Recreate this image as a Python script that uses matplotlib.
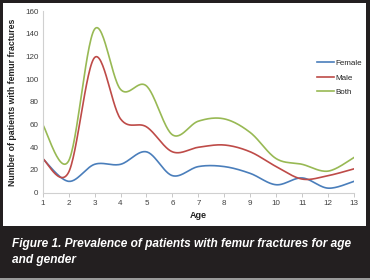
import numpy as np
import matplotlib
matplotlib.use("Agg")
import matplotlib.pyplot as plt
from matplotlib.patches import Rectangle

plt.rcParams['font.family'] = ['Liberation Sans', 'DejaVu Sans']

ages = [1, 2, 3, 4, 5, 6, 7, 8, 9, 10, 11, 12, 13]
female = [30, 10, 25, 25, 36, 15, 23, 23, 17, 7, 13, 4, 10]
male = [30, 18, 119, 65, 58, 36, 40, 42, 36, 23, 12, 15, 21]
both = [60, 28, 144, 91, 94, 51, 63, 65, 53, 30, 25, 19, 31]
yticks = [0, 20, 40, 60, 80, 100, 120, 140, 160]
caption = "Figure 1. Prevalence of patients with femur fractures for age\nand gender"


def smooth(x, y, n=30):
    # Excel style smoothed line (Catmull-Rom / cubic bezier)
    x = np.asarray(x, float)
    y = np.asarray(y, float)
    px = np.concatenate([[x[0]], x, [x[-1]]])
    py = np.concatenate([[y[0]], y, [y[-1]]])
    t = np.linspace(0, 1, n)[:, None]
    xs, ys = [], []
    for i in range(1, len(px) - 2):
        p0 = np.array([px[i], py[i]])
        p3 = np.array([px[i + 1], py[i + 1]])
        p1 = p0 + (np.array([px[i + 1], py[i + 1]]) - np.array([px[i - 1], py[i - 1]])) / 6
        p2 = p3 - (np.array([px[i + 2], py[i + 2]]) - np.array([px[i], py[i]])) / 6
        b = ((1 - t) ** 3) * p0 + 3 * ((1 - t) ** 2) * t * p1 + 3 * (1 - t) * t ** 2 * p2 + t ** 3 * p3
        xs.append(b[:, 0])
        ys.append(b[:, 1])
    return np.concatenate(xs), np.concatenate(ys)


fig = plt.figure(figsize=(3.7, 2.8), dpi=100)
fig.patch.set_facecolor('#231f20')
fig.patches.append(Rectangle((3 / 370, 1 - 226 / 280), 363 / 370, 223 / 280,
                             transform=fig.transFigure, facecolor='white',
                             edgecolor='none', zorder=-2))
fig.patches.append(Rectangle((0, 0), 1, 2 / 280, transform=fig.transFigure,
                             facecolor='#9a9a9a', edgecolor='none', zorder=-2))

ax = fig.add_axes([42.7 / 370, 1 - 192.7 / 280, (354 - 42.7) / 370, (192.7 - 11) / 280])
ax.set_facecolor('none')
ax.set_zorder(2)

for vals, col, lab in [(female, '#4a7ebb', 'Female'), (male, '#be4b48', 'Male'), (both, '#98b954', 'Both')]:
    sx, sy = smooth(ages, vals)
    ax.plot(sx, sy, color=col, lw=1.2, label=lab)

ax.set_xlim(1, 13)
ax.set_ylim(0, 160)
ax.set_xticks(ages)
ax.set_yticks(yticks)
ax.tick_params(axis='both', labelsize=5.8, colors='#404040', length=0, pad=3)
ax.tick_params(axis='x', length=3, direction='out', color='#bfbfbf', width=0.6, pad=2)
for s in ['top', 'right']:
    ax.spines[s].set_visible(False)
for s in ['left', 'bottom']:
    ax.spines[s].set_color('#d0d0d0')
    ax.spines[s].set_linewidth(0.8)

ax.set_xlabel('Age', fontsize=6.5, fontweight='bold', color='#222222', labelpad=3)
ax.set_ylabel('Number of patients with femur fractures', fontsize=6.3,
              fontweight='bold', color='#222222', labelpad=6)

leg = ax.legend(loc='upper left', bbox_to_anchor=(0.87, 0.75), frameon=False,
                fontsize=5.8, handlelength=2.2, handletextpad=0.1, labelspacing=0.85,
                borderaxespad=0)
for t in leg.get_texts():
    t.set_color('#222222')

fig.text(12 / 370, 1 - 252 / 280, caption, color='white', fontsize=8.6,
         fontweight='bold', fontstyle='italic', va='center', ha='left',
         linespacing=1.55)

fig.savefig('out.png', dpi=100, facecolor=fig.get_facecolor())
